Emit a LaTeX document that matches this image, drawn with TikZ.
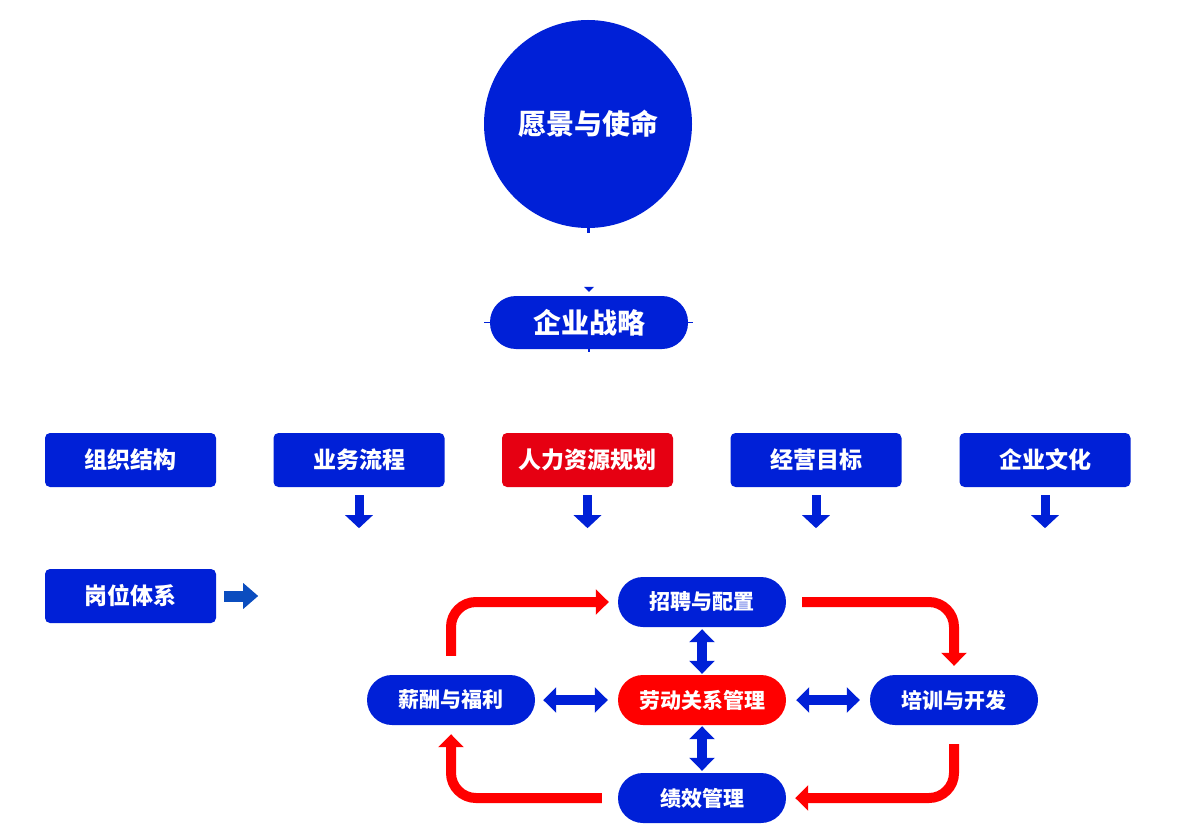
\documentclass[tikz,border=0pt]{standalone}
\usepackage{fontspec}
\newfontfamily\cjk{Noto Sans CJK SC}
\usetikzlibrary{arrows.meta}
\definecolor{mblue}{HTML}{0020D7}
\definecolor{rbox}{HTML}{E60012}
\definecolor{rred}{HTML}{FF0000}
\definecolor{sblue}{HTML}{0B4DBF}
\tikzset{
  rowbox/.style={fill=mblue, rounded corners=5pt, minimum width=171pt, minimum height=54pt, inner sep=0pt, text=white, font=\cjk\bfseries\fontsize{23}{25}\selectfont},
  pillbox/.style={fill=mblue, rounded corners=25pt, minimum width=168pt, minimum height=50pt, inner sep=0pt, text=white, font=\cjk\bfseries\fontsize{21}{23}\selectfont},
  redarrow/.style={draw=rred, line width=10pt, rounded corners=25pt, -{Triangle[width=25pt,length=13pt]}},
  bluedbl/.style={draw=mblue, line width=10pt, {Triangle[width=25pt,length=13pt]}-{Triangle[width=25pt,length=13pt]}},
  downarrow/.style={draw=mblue, line width=9pt, -{Triangle[width=27pt,length=13pt]}},
  sidearrow/.style={draw=sblue, line width=11pt, -{Triangle[width=25pt,length=15pt]}},
}
\begin{document}
\begin{tikzpicture}[x=1pt,y=-1pt]
\useasboundingbox[fill=white] (0,0) rectangle (1200,840);

% vision circle
\node[circle, fill=mblue, minimum size=208pt, inner sep=0pt, text=white, font=\cjk\bfseries\fontsize{28}{30}\selectfont] (vision) at (588,124) {愿景与使命};
% strategy pill
\node[fill=mblue, rounded corners=26pt, minimum width=198pt, minimum height=53pt, inner sep=0pt, text=white, font=\cjk\bfseries\fontsize{28}{30}\selectfont] (strategy) at (589,322.5) {企业战略};

% small connection marks
\draw[mblue, line width=3pt] (vision.south) -- ++(0,5);
\coordinate (tri) at ([yshift=6pt]strategy.north);
\fill[mblue] ([xshift=-5pt,yshift=3pt]tri) -- ([xshift=5pt,yshift=3pt]tri) -- ([yshift=-2pt]tri) -- cycle;
\draw[mblue, line width=1.5pt] (strategy.west) -- ++(-6,0);
\draw[mblue, line width=1.5pt] (strategy.east) -- ++(5,0);
\draw[mblue, line width=1.5pt] (strategy.south) -- ++(0,3);

% row boxes
\node[rowbox] (org) at (130.5,460) {组织结构};
\node[rowbox] (proc) at (359,460) {业务流程};
\node[rowbox, fill=rbox] (hrp) at (587.5,460) {人力资源规划};
\node[rowbox] (goal) at (816,460) {经营目标};
\node[rowbox] (cult) at (1045,460) {企业文化};
\node[rowbox] (post) at (130.5,596) {岗位体系};

% down arrows
\foreach \n in {proc,hrp,goal,cult}{
  \draw[downarrow] ([yshift=-8pt]\n.south) -- ([yshift=-41pt]\n.south);
}
\draw[sidearrow] ([xshift=8pt]post.east) -- ([xshift=42pt]post.east);

% cycle pills
\node[pillbox] (zp) at (702,602) {招聘与配置};
\node[pillbox] (xc) at (451,700) {薪酬与福利};
\node[pillbox, fill=rred] (ld) at (702,700) {劳动关系管理};
\node[pillbox] (px) at (954,700) {培训与开发};
\node[pillbox] (jx) at (702,798) {绩效管理};

% blue double arrows
\draw[bluedbl] ([yshift=-2pt]zp.south) -- ([yshift=1pt]ld.north);
\draw[bluedbl] ([yshift=-1pt]ld.south) -- ([yshift=2pt]jx.north);
\draw[bluedbl] ([xshift=8pt]xc.east) -- ([xshift=-10pt]ld.west);
\draw[bluedbl] ([xshift=10pt]ld.east) -- ([xshift=-10pt]px.west);

% red cycle arrows
\draw[redarrow] ([yshift=19pt]xc.north) |- ([xshift=-9pt]zp.west);
\draw[redarrow] ([xshift=16pt]zp.east) -| ([yshift=9pt]px.north);
\draw[redarrow] ([yshift=-19pt]px.south) |- ([xshift=9pt]jx.east);
\draw[redarrow] ([xshift=-16pt]jx.west) -| ([yshift=-9pt]xc.south);
\end{tikzpicture}
\end{document}
